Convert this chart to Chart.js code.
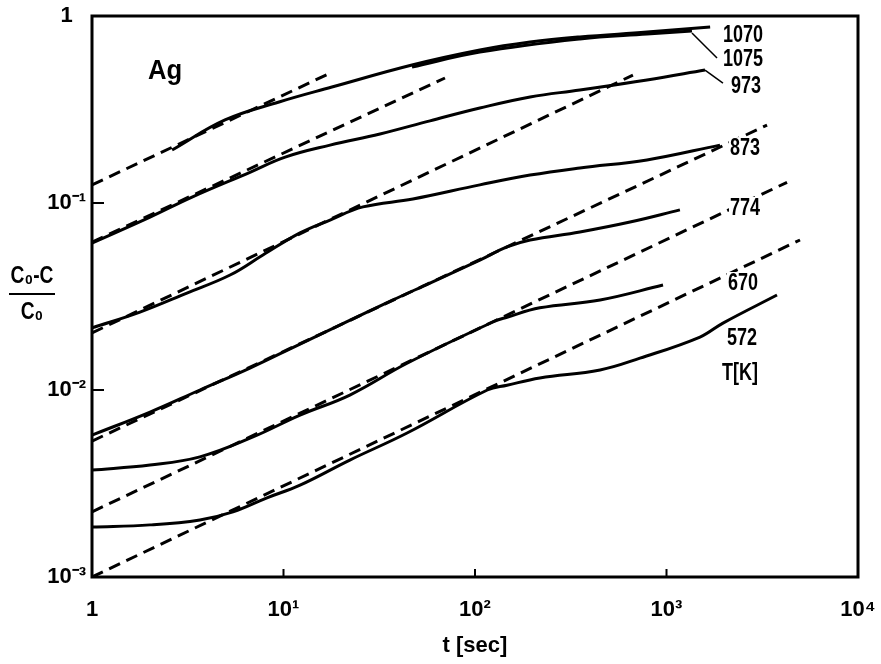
<!DOCTYPE html>
<html>
<head>
<meta charset="utf-8">
<title>Ag - (C0-C)/C0 vs t</title>
<script src="https://cdn.jsdelivr.net/npm/chart.js@4"></script>
<style>
  html, body { margin: 0; padding: 0; background: #fff; }
  canvas { display: block; }
</style>
</head>
<body>
<canvas id="chart" width="881" height="664"></canvas>
<script>
// --- 1. Data: t [sec] vs (C0-C)/C0 ---

// measured curves (solid)
const t1070 = [2.62, 4.95, 9.48, 17.9, 46.9, 106, 194, 353, 791, 1690];
const c1070 = [0.192, 0.278, 0.347, 0.417, 0.547, 0.658, 0.726, 0.773, 0.82, 0.873];
const t1075 = [46.9, 106, 353, 791, 1358];
const c1075 = [0.533, 0.641, 0.754, 0.801, 0.832];
const t973 = [1, 2.01, 3.33, 6.68, 10.2, 17.5, 31.9, 58.2, 106, 194, 353, 791, 1589];
const c973 = [0.0611, 0.0841, 0.1076, 0.146, 0.176, 0.204, 0.234, 0.275, 0.322, 0.369, 0.402, 0.455, 0.514];
const t873 = [1, 1.78, 3.13, 5.26, 7.81, 12.2, 17.5, 26.0, 47.4, 106, 194, 353, 791, 1902];
const c873 = [0.0215, 0.0261, 0.033, 0.0412, 0.0527, 0.0692, 0.0811, 0.0953, 0.105, 0.125, 0.141, 0.154, 0.170, 0.204];
const t774 = [1, 2.01, 3.66, 6.68, 12.2, 37.3, 58.2, 106, 147, 194, 353, 645, 1175];
const c774 = [0.00574, 0.00762, 0.01, 0.0131, 0.0176, 0.0303, 0.0373, 0.0495, 0.0582, 0.0634, 0.070, 0.0791, 0.0919];
const t670 = [1, 2.01, 3.66, 6.93, 12.2, 22.2, 44.2, 124, 147, 218, 450, 959];
const c670 = [0.00373, 0.00397, 0.00439, 0.00561, 0.00734, 0.0094, 0.0139, 0.0231, 0.0245, 0.0275, 0.0303, 0.0364];
const t572 = [1, 2.01, 3.66, 5.45, 8.20, 12.2, 22.2, 44.2, 116, 147, 218, 450, 727, 1496, 1972, 3776];
const c572 = [0.00185, 0.0019, 0.00202, 0.00223, 0.00265, 0.0031, 0.00422, 0.00589, 0.01, 0.0106, 0.0116, 0.0128, 0.0148, 0.0192, 0.0228, 0.0322];

// sqrt(t) fits (dashed), start and end points
const tFit1070 = [1, 17.9];   const cFit1070 = [0.125, 0.50];
const tFit973 = [1, 69.7];    const cFit973 = [0.0618, 0.466];
const tFit873 = [1, 668];     const cFit873 = [0.0202, 0.483];
const tFit774 = [1, 3350];    const cFit774 = [0.00533, 0.261];
const tFit670 = [1, 4260];    const cFit670 = [0.00223, 0.129];
const tFit572 = [1, 4980];    const cFit572 = [0.001, 0.0634];

// leader lines from curve ends to their labels
const tLead1075 = [1358, 1836]; const cLead1075 = [0.811, 0.596];
const tLead973 = [1589, 1972];  const cLead973 = [0.514, 0.438];

// axis ticks
const xTicks = [1, 10, 100, 1000, 10000];
const xTickLabels = ['1', '10¹', '10²', '10³', '10⁴'];
const yTicks = [0.001, 0.01, 0.1, 1];
const yTickLabels = ['10⁻³', '10⁻²', '10⁻¹', '1'];

// text inside the plot
const labelText = ['1070', '1075', '973', '873', '774', '670', '572', 'T[K]', 'Ag'];
const labelT = [2506, 2506, 2600, 2570, 2570, 2506, 2478, 2420, 2.41];
const labelC = [0.801, 0.596, 0.428, 0.199, 0.0953, 0.0378, 0.0192, 0.0125, 0.514];

// --- 2. Helpers ---
const FONT = '"Liberation Sans", Arial, sans-serif';

const pts = (ts, cs) => ts.map((t, i) => ({ x: t, y: cs[i] }));

const solid = (ts, cs) => ({
    data: pts(ts, cs),
    borderColor: '#000',
    borderWidth: 3,
    tension: 0.4,
    pointRadius: 0,
    fill: false
});

const dashed = (ts, cs) => ({
    data: pts(ts, cs),
    borderColor: '#000',
    borderWidth: 3,
    borderDash: [12, 7],
    pointRadius: 0,
    fill: false
});

const leader = (ts, cs) => ({
    data: pts(ts, cs),
    borderColor: '#000',
    borderWidth: 1.5,
    pointRadius: 0,
    fill: false
});

// narrow lettering like the hand-drawn figure
function narrowText(ctx, txt, x, y, squeeze) {
    ctx.save();
    ctx.translate(x, y);
    ctx.scale(squeeze, 1);
    ctx.fillText(txt, 0, 0);
    ctx.restore();
}

// --- 3. Frame, inward ticks, curve labels and y title ---
const decorations = {
    id: 'decorations',
    afterDatasetsDraw(chart) {
        const { ctx, chartArea: a, scales: { x, y } } = chart;
        ctx.save();

        // labels with a white patch so the dashed lines break around them
        ctx.textAlign = 'center';
        ctx.textBaseline = 'middle';
        labelText.forEach((txt, i) => {
            const px = x.getPixelForValue(labelT[i]);
            const py = y.getPixelForValue(labelC[i]);
            const big = txt === 'Ag';
            const squeeze = big ? 0.95 : 0.75;
            ctx.font = (big ? 'bold 27px ' : 'bold 24px ') + FONT;
            const w = ctx.measureText(txt).width * squeeze;
            if (!big) {
                ctx.fillStyle = '#fff';
                ctx.fillRect(px - w / 2 - 1, py - 10, w + 2, 20);
            }
            ctx.fillStyle = '#000';
            narrowText(ctx, txt, px, py + 1, squeeze);
        });

        // frame
        ctx.strokeStyle = '#000';
        ctx.lineWidth = 3;
        ctx.strokeRect(a.left, a.top, a.right - a.left, a.bottom - a.top);

        // ticks pointing into the plot
        ctx.lineWidth = 2;
        ctx.beginPath();
        yTicks.slice(1, -1).forEach(v => {
            const py = y.getPixelForValue(v);
            ctx.moveTo(a.left, py);
            ctx.lineTo(a.left + 12, py);
        });
        xTicks.slice(1, -1).forEach(v => {
            const px = x.getPixelForValue(v);
            ctx.moveTo(px, a.bottom);
            ctx.lineTo(px, a.bottom - 8);
        });
        ctx.stroke();

        // y axis title written as a fraction
        const cx = 32, cy = 294;
        ctx.font = 'bold 24px ' + FONT;
        narrowText(ctx, 'C₀-C', cx, cy - 18, 0.8);
        narrowText(ctx, 'C₀', cx, cy + 18, 0.8);
        ctx.lineWidth = 2;
        ctx.beginPath();
        ctx.moveTo(9, cy);
        ctx.lineTo(55, cy);
        ctx.stroke();

        ctx.restore();
    }
};

// --- 4. Chart ---
new Chart(document.getElementById('chart'), {
    type: 'line',
    data: {
        datasets: [
            dashed(tFit1070, cFit1070),
            dashed(tFit973, cFit973),
            dashed(tFit873, cFit873),
            dashed(tFit774, cFit774),
            dashed(tFit670, cFit670),
            dashed(tFit572, cFit572),
            solid(t1070, c1070),
            solid(t1075, c1075),
            solid(t973, c973),
            solid(t873, c873),
            solid(t774, c774),
            solid(t670, c670),
            solid(t572, c572),
            leader(tLead1075, cLead1075),
            leader(tLead973, cLead973)
        ]
    },
    options: {
        responsive: false,
        animation: false,
        devicePixelRatio: 1,
        layout: { padding: { top: 16, right: 23, left: 0, bottom: 0 } },
        plugins: { legend: { display: false }, tooltip: { enabled: false } },
        scales: {
            x: {
                type: 'logarithmic',
                min: 1,
                max: 10000,
                afterBuildTicks: s => { s.ticks = xTicks.map(v => ({ value: v })); },
                afterFit: s => { s.height = 87; s.paddingLeft = 0; s.paddingRight = 0; },
                grid: { display: false, drawTicks: false },
                border: { display: false },
                ticks: {
                    color: '#000',
                    font: { family: FONT, size: 22, weight: 'bold' },
                    padding: 20,
                    maxRotation: 0,
                    autoSkip: false,
                    callback: (v, i) => xTickLabels[i]
                },
                title: {
                    display: true,
                    text: 't [sec]',
                    color: '#000',
                    font: { family: FONT, size: 22, weight: 'bold' },
                    padding: { top: 0, bottom: 5 }
                }
            },
            y: {
                type: 'logarithmic',
                min: 0.001,
                max: 1,
                afterBuildTicks: s => { s.ticks = yTicks.map(v => ({ value: v })); },
                afterFit: s => { s.width = 92; s.paddingTop = 0; s.paddingBottom = 0; },
                grid: { display: false, drawTicks: false },
                border: { display: false },
                ticks: {
                    color: '#000',
                    font: { family: FONT, size: 22, weight: 'bold' },
                    padding: 6,
                    crossAlign: 'center',
                    autoSkip: false,
                    callback: (v, i) => yTickLabels[i]
                }
            }
        }
    },
    plugins: [decorations]
});
</script>
</body>
</html>
